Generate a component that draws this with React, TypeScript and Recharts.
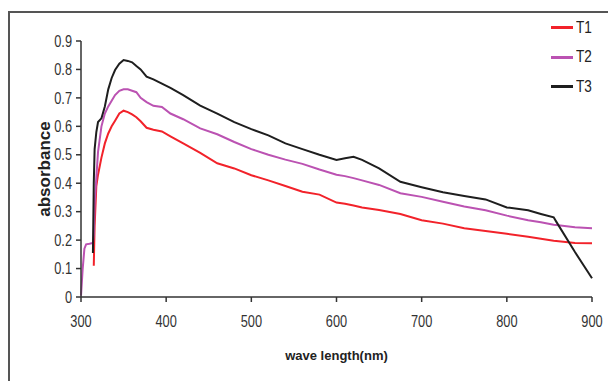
import React from 'react';
import { LineChart, Line, XAxis, YAxis } from 'recharts';

// wavelength (nm) and absorbance readings for each sample
const wavelengths = [
  300, 302, 304, 306, 310, 314, 315, 316, 318, 320, 324, 328, 332, 336, 340, 345,
  350, 355, 360, 365, 370, 377, 385, 395, 405, 420, 440, 460, 480, 500, 520, 540,
  560, 580, 600, 610, 620, 630, 650, 675, 700, 725, 750, 775, 800, 825, 840, 855,
  858, 880, 900,
];

const t1 = [
  null, null, null, null, null, null, 0.11, 0.25, 0.39, 0.43, 0.49, 0.54, 0.575, 0.6, 0.62, 0.645,
  0.655, 0.65, 0.642, 0.632, 0.618, 0.595, 0.588, 0.582, 0.565, 0.54, 0.507, 0.47, 0.452, 0.428, 0.41, 0.39,
  0.37, 0.36, 0.332, 0.328, 0.322, 0.315, 0.306, 0.292, 0.27, 0.258, 0.242, 0.232, 0.222, 0.212, 0.205, 0.198,
  0.197, 0.19, 0.189,
];

const t2 = [
  0.005, 0.1, 0.17, 0.185, 0.187, 0.19, 0.22, 0.33, 0.42, 0.51, 0.6, 0.645, 0.67, 0.69, 0.71, 0.725,
  0.73, 0.73, 0.725, 0.72, 0.7, 0.685, 0.672, 0.668, 0.645, 0.625, 0.593, 0.572, 0.545, 0.52, 0.5, 0.483,
  0.468, 0.448, 0.43, 0.425, 0.418, 0.41, 0.394, 0.365, 0.352, 0.335, 0.318, 0.305, 0.286, 0.27, 0.263, 0.254,
  0.253, 0.245, 0.242,
];

const t3 = [
  null, null, null, null, null, 0.155, 0.4, 0.52, 0.58, 0.615, 0.628, 0.67, 0.73, 0.77, 0.798, 0.82,
  0.833, 0.83, 0.825, 0.812, 0.8, 0.775, 0.765, 0.75, 0.735, 0.71, 0.673, 0.645, 0.615, 0.59, 0.568, 0.54,
  0.52, 0.5, 0.482, 0.488, 0.493, 0.482, 0.452, 0.405, 0.386, 0.368, 0.355, 0.343, 0.315, 0.305, 0.292, 0.28,
  0.265, 0.158, 0.066,
];

const xTicks = [300, 400, 500, 600, 700, 800, 900];
const yTicks = [0, 0.1, 0.2, 0.3, 0.4, 0.5, 0.6, 0.7, 0.8, 0.9];

const series = [
  { key: 't1', name: 'T1', color: '#f2222a' },
  { key: 't2', name: 'T2', color: '#bb52b2' },
  { key: 't3', name: 'T3', color: '#1e1e1e' },
];

const data = wavelengths.map((w, i) => ({ wl: w, t1: t1[i], t2: t2[i], t3: t3[i] }));

const font = '"Liberation Sans", Arial, sans-serif';

// the original uses a condensed face, so squeeze the glyphs sideways
const XTick = ({ x, y, payload }: any) => (
  <g transform={`translate(${x},${y})`}>
    <text transform="scale(0.8,1)" textAnchor="middle" dy="0.71em" fill="#333" fontSize={16} fontFamily={font}>
      {payload.value}
    </text>
  </g>
);

const YTick = ({ x, y, payload }: any) => (
  <g transform={`translate(${x},${y})`}>
    <text transform="scale(0.8,1)" textAnchor="end" dy="0.355em" fill="#333" fontSize={16} fontFamily={font}>
      {payload.value}
    </text>
  </g>
);

const YLabel = ({ viewBox }: any) => {
  const cx = viewBox.x + 36;
  const cy = viewBox.y + viewBox.height / 2;
  return (
    <text
      x={cx}
      y={cy}
      transform={`rotate(-90, ${cx}, ${cy})`}
      textAnchor="middle"
      dominantBaseline="central"
      fill="#222"
      fontSize={17}
      fontWeight="bold"
      fontFamily={font}
    >
      absorbance
    </text>
  );
};

const XLabel = ({ viewBox }: any) => (
  <text
    x={viewBox.x + viewBox.width / 2}
    y={347}
    textAnchor="middle"
    dominantBaseline="central"
    fill="#222"
    fontSize={13}
    fontWeight="bold"
    fontFamily={font}
  >
    wave length(nm)
  </text>
);

export default function App() {
  return (
    <>
      <style>{'html, body { margin: 0; padding: 0; overflow: hidden; }'}</style>
      <div style={{ width: 608, height: 381, overflow: 'hidden', background: '#fff', position: 'relative' }}>
        <div style={{ position: 'absolute', left: 8, top: 8, width: 600, height: 373 }}>
          {/* outer frame, only its top and left edges fit in the window */}
          <div
            style={{
              position: 'absolute',
              left: 0,
              top: 3,
              width: 640,
              height: 400,
              borderLeft: '2px solid #555',
              borderTop: '2px solid #555',
            }}
          />
          <div style={{ position: 'absolute', left: 0, top: 0 }}>
            <LineChart
              width={600}
              height={373}
              data={data}
              margin={{ top: 33, right: 16, bottom: 54, left: 0 }}
              style={{ overflow: 'visible' }}
            >
              <XAxis
                dataKey="wl"
                type="number"
                domain={[300, 900]}
                ticks={xTicks}
                height={30}
                stroke="#333"
                strokeWidth={1.5}
                tickSize={5}
                tickMargin={14}
                tick={<XTick />}
                label={<XLabel />}
              />
              <YAxis
                type="number"
                domain={[0, 0.9]}
                ticks={yTicks}
                width={73}
                stroke="#333"
                strokeWidth={1.5}
                tickSize={5}
                tickMargin={4}
                tick={<YTick />}
                label={<YLabel />}
              />
              {series.map(s => (
                <Line
                  key={s.key}
                  dataKey={s.key}
                  name={s.name}
                  type="linear"
                  stroke={s.color}
                  strokeWidth={2}
                  dot={false}
                  activeDot={false}
                  isAnimationActive={false}
                />
              ))}
            </LineChart>
          </div>
          <div style={{ position: 'absolute', left: 543, top: 5, fontFamily: font, fontSize: 17, color: '#222' }}>
            {series.map(s => (
              <div key={s.key} style={{ display: 'flex', alignItems: 'center', height: 29.5 }}>
                <span style={{ width: 22, height: 3, background: s.color, marginRight: 3 }} />
                <span style={{ display: 'inline-block', transform: 'scaleX(0.8)', transformOrigin: 'left center' }}>
                  {s.name}
                </span>
              </div>
            ))}
          </div>
        </div>
      </div>
    </>
  );
}
